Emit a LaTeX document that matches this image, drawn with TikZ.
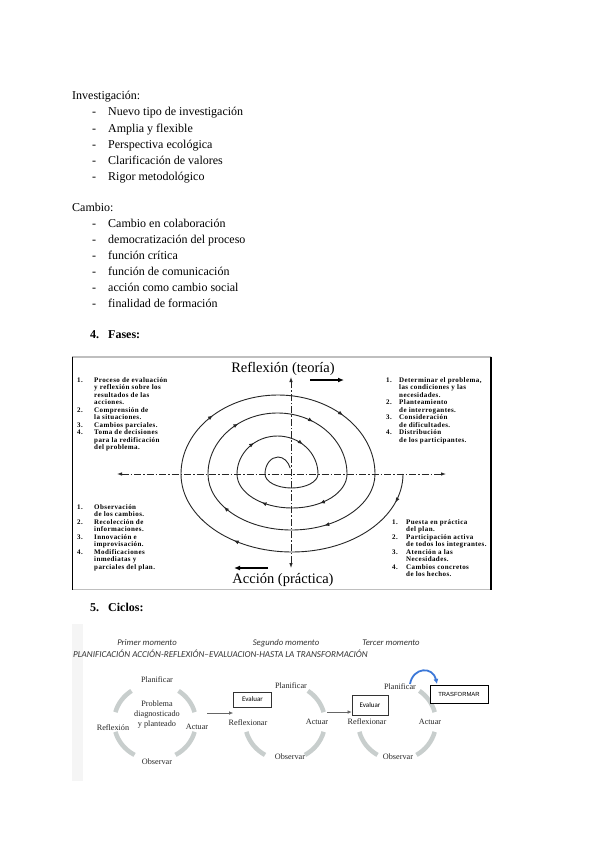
\documentclass[tikz,border=0pt]{standalone}
\usepackage{fontspec}
\setmainfont{Liberation Serif}
\newfontfamily\calfont{Carlito}
\newfontfamily\arialfont{Liberation Sans}
\newfontfamily\scanfont[LetterSpace=6]{Liberation Serif}
\usetikzlibrary{arrows.meta,decorations.markings}
\definecolor{ringgray}{RGB}{200,206,205}
\definecolor{bluearrow}{RGB}{60,120,216}
\begin{document}
\begin{tikzpicture}[x=1pt,y=1pt,
  body/.style={font=\fontsize{12}{14}\selectfont, anchor=base west, inner sep=0pt},
  head/.style={font=\bfseries\fontsize{12}{14}\selectfont, anchor=base west, inner sep=0pt},
  fasetxt/.style={font=\scanfont\bfseries\fontsize{7}{7.5}\selectfont, anchor=north west, inner sep=0pt},
  axtitle/.style={font=\fontsize{14.5}{16}\selectfont, inner sep=0pt},
  spir/.style={line width=0.9pt, black!85},
  mk/.style 2 args={postaction={decorate}, decoration={markings,
      mark=at position #1 with {\arrow{Latex[length=5pt,width=4pt]}},
      mark=at position #2 with {\arrow{Latex[length=5pt,width=4pt]}}}},
  axisline/.style={line width=0.8pt, black!85, dash pattern=on 7pt off 2pt on 1.5pt off 2pt,
      {Latex[length=5pt,width=3.5pt]}-{Latex[length=5pt,width=3.5pt]}},
  bigarr/.style={line width=1.6pt, -{Latex[length=6pt,width=5pt]}},
  ring/.style={line width=4.5pt, ringgray},
  clab/.style={font=\fontsize{8.2}{10}\selectfont, inner sep=0pt, black!85},
  ebox/.style={draw=black!80, fill=white, line width=0.7pt, font=\calfont\fontsize{7}{8}\selectfont, inner sep=0pt},
  conn/.style={black!60, line width=0.6pt, -{Latex[length=4pt,width=3.5pt]}},
  mom/.style={font=\calfont\itshape\fontsize{8.7}{10}\selectfont, inner sep=0pt, black!80},
]
\useasboundingbox (0,0) rectangle (600,-848);
\fill[white] (0,0) rectangle (600,-848);

% ---------- text lists ----------
\node[body] (inv) at (72,-100) {Investigación:};
\foreach \txt [count=\i] in {Nuevo tipo de investigación, Amplia y flexible, Perspectiva ecológica, Clarificación de valores, Rigor metodológico}{
  \node[body] (invd\i) at (92,-100-16*\i) {-};
  \node[body] (invt\i) at (108,-100-16*\i) {\txt};
}
\node[body] (cam) at (72,-211) {Cambio:};
\foreach \txt [count=\i] in {Cambio en colaboración, democratización del proceso, función crítica, función de comunicación, acción como cambio social, finalidad de formación}{
  \node[body] (camd\i) at (92,-211-16*\i) {-};
  \node[body] (camt\i) at (108,-211-16*\i) {\txt};
}
\node[head] (n4) at (90,-338) {4.};
\node[head] (fases) at (108,-338) {Fases:};

% ---------- Fases frame ----------
\draw[black!25, line width=1.3pt] (72,-357) -- (491,-357);
\draw[black!25, line width=1.3pt] (72,-589.5) -- (491,-589.5);
\draw[black, line width=1.1pt] (72.5,-356.5) -- (72.5,-590);
\draw[black, line width=1.1pt] (491,-356.5) -- (491,-590);

\node[axtitle] (refl) at (283,-369) {Reflexión (teoría)};
\node[axtitle] (acc) at (283,-580) {Acción (práctica)};

\coordinate (ra1) at (310,-380); \coordinate (ra2) at (344,-380);
\draw[bigarr] (ra1) -- (ra2);
\coordinate (la1) at (268,-568); \coordinate (la2) at (234,-568);
\draw[bigarr] (la1) -- (la2);

% axes
\coordinate (hl) at (117,-474); \coordinate (hr) at (446,-474);
\coordinate (vt) at (291,-377); \coordinate (vb) at (291,-568);
\draw[axisline] (hl) -- (hr);
\draw[axisline] (vb) -- (vt);

% spiral
\draw[spir] (265,-474) arc[start angle=180,end angle=20,x radius=13,y radius=17];
\draw[spir] (318,-474) arc[start angle=0,end angle=-180,x radius=26.5,y radius=14];
\draw[spir,mk={0.3}{0.72}] (237,-474) arc[start angle=180,end angle=0,x radius=40.5,y radius=38];
\draw[spir,mk={0.3}{0.72}] (347,-474) arc[start angle=0,end angle=-180,x radius=55,y radius=34];
\draw[spir,mk={0.3}{0.68}] (208,-474) arc[start angle=180,end angle=0,x radius=69.5,y radius=61];
\draw[spir,mk={0.35}{0.83}] (375,-474) arc[start angle=0,end angle=-180,x radius=83.5,y radius=56];
\draw[spir,mk={0.25}{0.75}] (181,-474) arc[start angle=180,end angle=0,x radius=97,y radius=79];
\draw[spir,mk={0.1}{0.7}] (403,-474) arc[start angle=0,end angle=-180,x radius=111,y radius=78];

% quadrant texts
\node[fasetxt] (tl) at (77,-377) {\begin{tabular}{@{}l@{}l@{}}
\makebox[17pt][l]{1.} & Proceso de evaluación\\ & y reflexión sobre los\\ & resultados de las\\ & acciones.\\
2. & Comprensión de\\ & la situaciones.\\
3. & Cambios parciales.\\
4. & Toma de decisiones\\ & para la redificación\\ & del problema.\end{tabular}};
\node[fasetxt] (tr) at (386,-377) {\begin{tabular}{@{}l@{}l@{}}
\makebox[13pt][l]{1.} & Determinar el problema,\\ & las condiciones y las\\ & necesidades.\\
2. & Planteamiento\\ & de interrogantes.\\
3. & Consideración\\ & de dificultades.\\
4. & Distribución\\ & de los participantes.\end{tabular}};
\node[fasetxt] (bl) at (77,-504) {\begin{tabular}{@{}l@{}l@{}}
\makebox[17pt][l]{1.} & Observación\\ & de los cambios.\\
2. & Recolección de\\ & informaciones.\\
3. & Innovación e\\ & improvisación.\\
4. & Modificaciones\\ & inmediatas y\\ & parciales del plan.\end{tabular}};
\node[fasetxt] (br) at (392,-519) {\begin{tabular}{@{}l@{}l@{}}
\makebox[14pt][l]{1.} & Puesta en práctica\\ & del plan.\\
2. & Participación activa\\ & de todos los integrantes.\\
3. & Atención a las\\ & Necesidades.\\
4. & Cambios concretos\\ & de los hechos.\end{tabular}};

% ---------- Ciclos ----------
\node[head] (n5) at (90,-611) {5.};
\node[head] (ciclos) at (108,-611) {Ciclos:};

\fill[black!4] (72,-624) rectangle (83,-781);

\node[mom] (m1) at (147,-643) {Primer momento};
\node[mom] (m2) at (286,-643) {Segundo momento};
\node[mom] (m3) at (391,-643) {Tercer momento};
\node[mom, anchor=west, font=\calfont\itshape\fontsize{9.1}{10}\selectfont] (plan) at (73,-654) {PLANIFICACIÓN ACCIÓN-REFLEXIÓN–EVALUACION-HASTA LA TRANSFORMACIÓN};

% rings
\foreach \a/\b in {15/55,125/165,195/240,300/345}
  \draw[ring] (155,-722) ++(\a:41 and 38) arc[start angle=\a,end angle=\b,x radius=41,y radius=38];
\foreach \a/\b in {15/55,195/240,300/345}
  \draw[ring] (285,-722) ++(\a:40 and 38) arc[start angle=\a,end angle=\b,x radius=40,y radius=38];
\foreach \a/\b in {15/55,195/240,300/345}
  \draw[ring] (397,-722) ++(\a:39 and 38) arc[start angle=\a,end angle=\b,x radius=39,y radius=38];

% cycle 1
\node[clab] (c1p) at (157,-680) {Planificar};
\node[clab, align=center] (c1prob) at (157,-715) {Problema\\diagnosticado\\y planteado};
\node[clab] (c1r) at (113,-728) {Reflexión};
\node[clab] (c1a) at (197,-727) {Actuar};
\node[clab] (c1o) at (157,-762) {Observar};

% cycle 2
\node[ebox, minimum width=38pt, minimum height=15pt] (ev1) at (252.5,-699.5) {Evaluar};
\node[clab] (c2p) at (291,-686) {Planificar};
\node[clab] (c2r) at (248,-723) {Reflexionar};
\node[clab] (c2a) at (317,-722) {Actuar};
\node[clab] (c2o) at (290,-757) {Observar};

% cycle 3
\node[ebox, minimum width=36pt, minimum height=20pt] (ev2) at (370,-705) {Evaluar};
\node[clab] (c3p) at (400,-687) {Planificar};
\node[clab] (c3r) at (367,-722) {Reflexionar};
\node[clab] (c3a) at (430,-722) {Actuar};
\node[clab] (c3o) at (398,-757) {Observar};
\node[draw=black, fill=white, line width=0.8pt, minimum width=58pt, minimum height=18pt, inner sep=0pt,
      font=\arialfont\fontsize{5.9}{7}\selectfont] (trf) at (459,-694) {TRASFORMAR};

% connectors
\coordinate (k1s) at (207,-713);
\draw[conn] (k1s) -- (k1s -| ev1.west);
\coordinate (k2s) at (327,-712);
\draw[conn] (k2s) -- (k2s -| ev2.west);
\coordinate (bs) at (410,-684);
\coordinate (be) at (437,-684);
\draw[bluearrow, line width=1.8pt, -{Latex[length=5pt,width=5pt]}] (bs) .. controls (413,-667) and (433,-666) .. (be);
\end{tikzpicture}
\end{document}
